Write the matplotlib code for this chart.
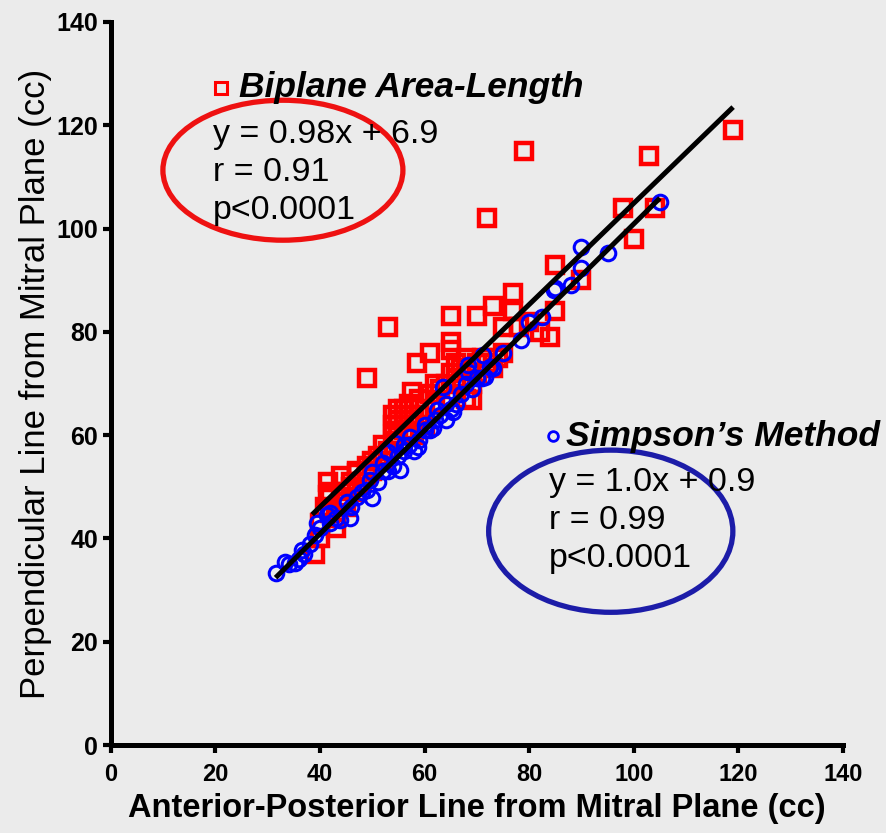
import numpy as np
import matplotlib.pyplot as plt
from matplotlib.patches import Ellipse

# Biplane area-length (red squares)
biplane_x = [39, 40, 40, 41, 41.5, 41.5, 42, 43, 43, 44, 44, 45, 45, 46, 47, 47, 48, 49, 49, 50,
             50, 51, 52, 52, 53, 54, 54, 55, 55, 56, 56, 57, 57.6, 58, 58, 59, 59, 60, 60, 61,
             62, 62, 63, 64, 65, 66, 66, 67, 68, 68, 69, 69, 70, 70, 71, 72, 73, 74, 75, 72,
             79, 103, 119, 98, 104, 100, 90, 85, 77, 77, 73, 70, 65, 65, 65, 61, 58.5, 53, 49, 75,
             78, 82, 84, 85, 80, 47, 55, 56, 54, 57, 42, 46]
biplane_y = [37, 40, 43, 46, 48.4, 51, 45, 42, 44, 47, 52, 46, 48, 50, 52.7, 49, 51, 54, 52, 55,
             53, 56, 55, 58, 57, 60, 62, 63, 65, 64, 61, 66, 68.4, 63, 60, 64, 67, 62, 65, 68,
             66, 70, 69, 70, 72, 71, 74, 73, 75, 67, 70, 66.8, 74, 72, 75, 74, 73, 75, 76, 102,
             115, 114, 119, 104, 104, 98, 90, 93, 87.5, 84, 85, 83, 83, 78, 76.5, 76, 74, 81, 71, 81,
             81, 80, 79, 84, 82, 53, 62, 65, 64, 63, 49, 51]

# Simpson's method (blue circles)
simpson_x = [31.5, 33.3, 34, 35.2, 36, 36.5, 37, 38, 39, 39.4, 40, 41.3, 42, 42, 43, 43.8, 45.1, 45.7,
             46, 47, 48, 49, 49.5, 50, 50, 51, 52, 52, 53, 53, 54, 54.3, 55, 55.3, 56, 56, 57, 57.2,
             58, 58.7, 59, 60, 60, 61, 61.6, 62, 62.3, 63, 63.5, 64, 64, 65, 65.4, 66, 67, 68, 68.3,
             68.3, 69, 70, 71, 71.2, 71.5, 72.5, 73, 75, 78.4, 80, 82.4, 84.7, 85, 88, 90, 90, 95, 105]
simpson_y = [33.3, 35.4, 35, 35.2, 36, 37.8, 37, 39, 40.7, 43, 42, 44.5, 43, 45, 44, 43.6, 47.1, 44,
             46, 48, 49, 49.4, 51.3, 47.8, 52.9, 51, 53, 54.6, 53, 56.7, 54, 58.5, 56, 53.3, 57, 58, 58, 59.6,
             57, 57.7, 59, 61, 62, 61, 61.4, 63, 64.9, 64, 69.3, 63, 66, 65, 64.5, 66, 68, 70, 73.6,
             72.2, 69, 71, 71, 75.5, 71.3, 73.2, 73, 76, 78.4, 82, 82.9, 88.1, 88.5, 89, 92.4, 96.4, 95.3, 105.2]

# regression fits as printed on the chart
fit_bi = (0.98, 6.9, 38.5, 119)
fit_si = (1.0, 0.9, 31.5, 105)

bg = '#ebebeb'
fig = plt.figure(figsize=(8.87, 8.33), dpi=100, facecolor=bg)
ax = fig.add_axes([0.125, 0.1056, 0.8253, 0.868], facecolor=bg)

sans = ['Liberation Sans', 'DejaVu Sans']

ax.plot(biplane_x, biplane_y, 's', ms=11.5, mfc='none', mec='#ff0000', mew=3.2, clip_on=False, zorder=3)
ax.plot(simpson_x, simpson_y, 'o', ms=10.5, mfc='none', mec='#0000ff', mew=2.2, clip_on=False, zorder=4)

for m, b, x0, x1 in (fit_bi, fit_si):
    xx = np.array([x0, x1])
    ax.plot(xx, m * xx + b, color='black', lw=3.6, zorder=5, solid_capstyle='butt')

ax.add_patch(Ellipse((32.9, 111.3), 45.9, 27.1, fill=False, ec='#ee1111', lw=3.8, zorder=6))
ax.add_patch(Ellipse((95.6, 41.4), 46.7, 31.4, fill=False, ec='#1c1ca8', lw=3.8, zorder=6))

# legend-like annotations
ax.plot([21.0], [127.3], 's', ms=8, mfc='none', mec='#ff0000', mew=2.2, zorder=7)
ax.text(24.5, 127.3, 'Biplane Area-Length', fontsize=25.5, fontweight='bold', fontstyle='italic',
        family=sans, va='center', ha='left', zorder=7)
for i, s in enumerate(['y = 0.98x + 6.9', 'r = 0.91', 'p<0.0001']):
    ax.text(19.5, 118.3 - i * 7.4, s, fontsize=24.5, family=sans, va='center', ha='left', zorder=7)

ax.plot([84.5], [59.8], 'o', ms=7, mfc='none', mec='#0000ff', mew=2.0, zorder=7)
ax.text(87.0, 59.8, u'Simpson\u2019s Method', fontsize=25.5, fontweight='bold', fontstyle='italic',
        family=sans, va='center', ha='left', zorder=7)
for i, s in enumerate(['y = 1.0x + 0.9', 'r = 0.99', 'p<0.0001']):
    ax.text(83.8, 50.9 - i * 7.4, s, fontsize=24.5, family=sans, va='center', ha='left', zorder=7)

ax.set_xlim(0, 140)
ax.set_ylim(0, 140)
ax.set_xticks(range(0, 141, 20))
ax.set_yticks(range(0, 141, 20))
for side in ('top', 'right'):
    ax.spines[side].set_visible(False)
for side in ('left', 'bottom'):
    ax.spines[side].set_linewidth(3.6)
ax.tick_params(direction='out', length=6, width=3, pad=3)
ax.tick_params(axis='x', pad=7)
for lab in ax.get_xticklabels():
    lab.set_fontproperties({'family': sans, 'weight': 'bold', 'size': 17})
for lab in ax.get_yticklabels():
    lab.set_fontproperties({'family': sans, 'weight': 'bold', 'size': 18})

ax.set_xlabel('Anterior-Posterior Line from Mitral Plane (cc)', fontsize=23.5, fontweight='bold',
              family=sans, labelpad=5)
ax.set_ylabel('Perpendicular Line from Mitral Plane (cc)', fontsize=25, family=sans, labelpad=3)

fig.savefig('out.png', dpi=100, facecolor=bg)
